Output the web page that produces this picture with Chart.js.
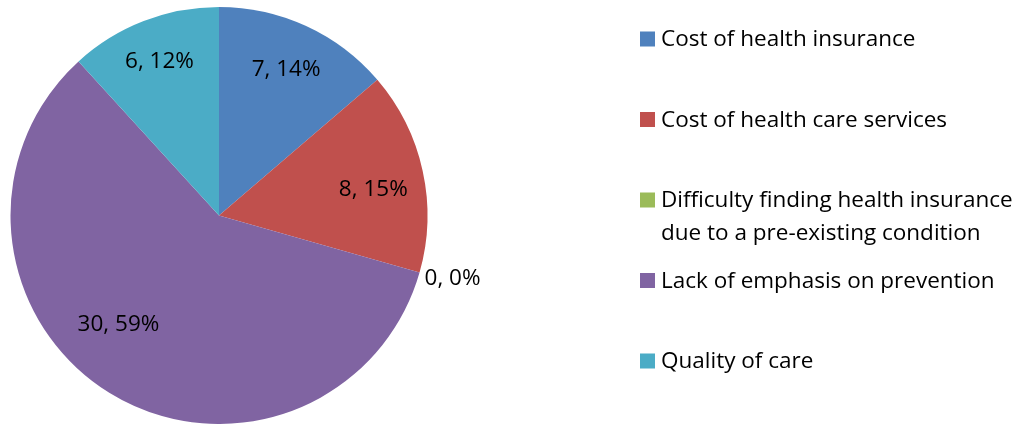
<!DOCTYPE html>
<html>
<head>
<meta charset="utf-8">
<script src="https://cdn.jsdelivr.net/npm/chart.js@4.4.1/dist/chart.umd.min.js"></script>
<style>
  html, body { margin: 0; padding: 0; background: #fff; }
  #wrap { width: 1031px; height: 424px; position: relative; }
</style>
</head>
<body>
<div id="wrap"><canvas id="pieChart" width="1031" height="424"></canvas></div>
<script>
// chart data
const categories = [
  "Cost of health insurance",
  "Cost of health care services",
  "Difficulty finding health insurance due to a pre-existing condition",
  "Lack of emphasis on prevention",
  "Quality of care",
];
const counts = [7, 8, 0, 30, 6];
const percentLabels = ["14%", "15%", "0%", "59%", "12%"];
const colors = ["#4F81BD", "#C0504D", "#9BBB59", "#8064A2", "#4BACC6"];

const FONT = "22.5px 'Open Sans', sans-serif";

// where each data label sits: fraction of radius, angle nudge (deg), outside?
const labelPlacement = [
  { r: 0.77, da: 0 },
  { r: 0.75, da: 3 },
  { r: 1.0, da: 0, outside: true },
  { r: 0.71, da: 11 },
  { r: 0.79, da: 0 },
];

// draws "value, pct" inside the slices
const dataLabelPlugin = {
  id: "dataLabels",
  afterDatasetsDraw(chart) {
    const ctx = chart.ctx;
    const meta = chart.getDatasetMeta(0);
    ctx.save();
    ctx.font = FONT;
    ctx.fillStyle = "#000";
    ctx.textBaseline = "middle";
    meta.data.forEach((arc, i) => {
      const p = labelPlacement[i];
      const mid = (arc.startAngle + arc.endAngle) / 2 + (p.da * Math.PI) / 180;
      const r = arc.outerRadius * p.r;
      const x = arc.x + Math.cos(mid) * r;
      const y = arc.y + Math.sin(mid) * r;
      const text = counts[i] + ", " + percentLabels[i];
      if (p.outside) {
        ctx.textAlign = "left";
        ctx.fillText(text, x + 5, y + 6);
      } else {
        ctx.textAlign = "center";
        ctx.fillText(text, x, y);
      }
    });
    ctx.restore();
  },
};

// legend on the right, drawn by hand so long labels can wrap
const legendPlugin = {
  id: "sideLegend",
  afterDraw(chart) {
    const ctx = chart.ctx;
    ctx.save();
    ctx.font = FONT;
    ctx.textAlign = "left";
    ctx.textBaseline = "middle";
    const boxX = 640, textX = 661, maxW = 1031 - textX;
    categories.forEach((label, i) => {
      const y = 39 + i * 80.5;
      ctx.fillStyle = colors[i];
      ctx.fillRect(boxX, y - 7.5, 15, 15);
      ctx.fillStyle = "#000";
      // simple word wrap
      const words = label.split(" ");
      let line = "", lines = [];
      words.forEach((w) => {
        const test = line ? line + " " + w : w;
        if (ctx.measureText(test).width > maxW && line) {
          lines.push(line);
          line = w;
        } else {
          line = test;
        }
      });
      lines.push(line);
      lines.forEach((l, j) => ctx.fillText(l, textX, y + 1 + j * 33));
    });
    ctx.restore();
  },
};

new Chart(document.getElementById("pieChart"), {
  type: "pie",
  data: {
    labels: categories,
    datasets: [
      {
        data: counts,
        backgroundColor: colors,
        borderWidth: 0,
      },
    ],
  },
  options: {
    responsive: false,
    animation: false,
    layout: { padding: { left: 10, right: 603, top: 7, bottom: 0 } },
    plugins: {
      legend: { display: false },
      tooltip: { enabled: false },
    },
  },
  plugins: [dataLabelPlugin, legendPlugin],
});
</script>
</body>
</html>
